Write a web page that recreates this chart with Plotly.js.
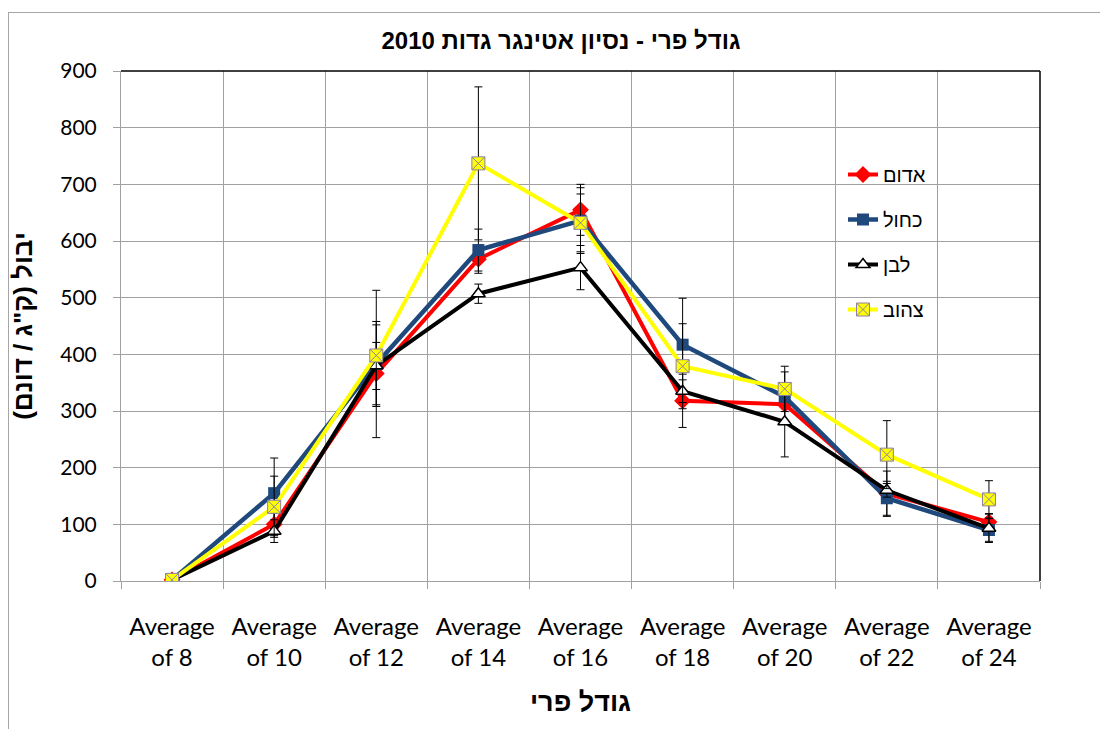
<!DOCTYPE html>
<html>
<head>
<meta charset="utf-8">
<script src="https://cdn.plot.ly/plotly-3.0.1.min.js"></script>
<style>
  html, body { margin: 0; padding: 0; background: #fff; }
  #wrap { position: relative; width: 1100px; height: 729px; overflow: hidden; }
  #frame { position: absolute; left: 8px; top: 12px; width: 1200px; height: 800px; border-left: 1px solid #a6a6a6; border-top: 1px solid #a6a6a6; pointer-events: none; z-index: 5; }
  #chart { position: absolute; left: 0; top: 0; width: 1100px; height: 729px; }
</style>
</head>
<body>
<div id="wrap">
  <div id="chart"></div>
  <div id="frame"></div>
</div>
<script>
const categories = ['Average of 8', 'Average of 10', 'Average of 12', 'Average of 14', 'Average of 16',
                    'Average of 18', 'Average of 20', 'Average of 22', 'Average of 24'];
const tickLabels = ['Average<br>of 8', 'Average<br>of 10', 'Average<br>of 12', 'Average<br>of 14', 'Average<br>of 16',
                    'Average<br>of 18', 'Average<br>of 20', 'Average<br>of 22', 'Average<br>of 24'];

const seriesNames = ['אדום', 'כחול', 'לבן', 'צהוב'];

const redValues    = [2, 100, 366, 568, 655, 318, 312, 154, 104];
const redErrors    = [2, 20, 55, 25, 45, 47, 30, 40, 15];
const blueValues   = [2, 155, 383, 584, 636, 417, 325, 146, 90];
const blueErrors   = [1, 62, 130, 37, 58, 82, 44, 30, 20];
const blackValues  = [2, 88, 380, 507, 553, 335, 281, 160, 93];
const blackErrors  = [1, 20, 72, 17, 39, 20, 62, 12, 25];
const yellowValues = [2, 131, 398, 737, 632, 379, 339, 223, 144];
const yellowErrors = [1, 54, 60, 135, 51, 75, 40, 60, 33];

const yTicks = [0, 100, 200, 300, 400, 500, 600, 700, 800, 900];

const titleText = '\u202Bגודל פרי - נסיון אטינגר גדות 2010\u202C';
const yTitleText = '\u202Bיבול (ק"ג / דונם)\u202C';
const xTitleText = '\u202Bגודל פרי\u202C';

function errBar(arr) {
  return { type: 'data', array: arr, visible: true, color: '#000', thickness: 1, width: 4 };
}

const traces = [
  { x: categories, y: redValues, name: seriesNames[0], legendgroup: 'a', mode: 'lines+markers',
    line: { color: '#ff0000', width: 4 },
    marker: { symbol: 'diamond', size: 13, color: '#ff0000' },
    error_y: errBar(redErrors) },
  { x: categories, y: blueValues, name: seriesNames[1], legendgroup: 'b', mode: 'lines+markers',
    line: { color: '#1f497d', width: 4.5 },
    marker: { symbol: 'square', size: 12, color: '#1f497d' },
    error_y: errBar(blueErrors) },
  { x: categories, y: blackValues, name: seriesNames[2], legendgroup: 'c', mode: 'lines+markers',
    line: { color: '#000000', width: 4 },
    marker: { symbol: 'triangle-up', size: 12, color: '#ffffff', line: { color: '#000', width: 1.5 } },
    error_y: errBar(blackErrors) },
  { x: categories, y: yellowValues, name: seriesNames[3], legendgroup: 'd', mode: 'lines+markers',
    line: { color: '#ffff00', width: 4 },
    marker: { symbol: 'square-x', size: 13, color: '#ffff00', line: { color: '#8a7fa8', width: 1 } },
    error_y: errBar(yellowErrors) }
];

const gridColor = '#a0a0a0';

const layout = {
  width: 1100, height: 729,
  margin: { l: 121, r: 60, t: 71, b: 148 },
  paper_bgcolor: '#fff', plot_bgcolor: '#fff',
  showlegend: true,
  title: { text: titleText, x: 561 / 1100, xanchor: 'center', y: 1 - 41 / 729, yanchor: 'middle',
           font: { family: 'Liberation Sans, Arial, sans-serif', size: 24, color: '#000', weight: 'bold' } },
  xaxis: {
    type: 'category', range: [-0.5, 8.5], tickson: 'boundaries',
    tickvals: categories, ticktext: tickLabels,
    showgrid: true, gridcolor: gridColor, gridwidth: 1,
    showline: true, linecolor: gridColor, linewidth: 1,
    ticks: 'outside', ticklen: 7, tickcolor: gridColor,
    tickfont: { family: 'Lato, Calibri, sans-serif', size: 24, color: '#000' },
    ticklabelstandoff: 24,
    title: { text: xTitleText, standoff: 22,
             font: { family: 'Liberation Sans, Arial, sans-serif', size: 27, color: '#000', weight: 'bold' } },
    fixedrange: true
  },
  yaxis: {
    range: [0, 900], tickvals: yTicks,
    showgrid: true, gridcolor: gridColor, gridwidth: 1,
    zeroline: false,
    showline: true, linecolor: gridColor, linewidth: 1,
    ticks: 'outside', ticklen: 7, tickcolor: gridColor,
    tickfont: { family: 'Lato, Calibri, sans-serif', size: 21, color: '#000' },
    ticklabelstandoff: 12,
    title: { text: yTitleText, standoff: 20,
             font: { family: 'Liberation Sans, Arial, sans-serif', size: 26, color: '#000', weight: 'bold' } },
    fixedrange: true
  },
  legend: {
    x: (843 - 121) / 919, xanchor: 'left', y: (581 - 155) / 510, yanchor: 'top',
    bgcolor: 'rgba(0,0,0,0)', borderwidth: 0,
    traceorder: 'grouped', tracegroupgap: 16,
    font: { family: 'Liberation Sans, Arial, sans-serif', size: 20, color: '#000' }
  },
  shapes: [
    { type: 'line', xref: 'paper', yref: 'paper', x0: 0, x1: 1, y0: 1, y1: 1, line: { color: '#000', width: 1.5 } },
    { type: 'line', xref: 'paper', yref: 'paper', x0: 1, x1: 1, y0: 0, y1: 1, line: { color: '#000', width: 1.5 } }
  ]
};

Plotly.newPlot('chart', traces, layout, { displayModeBar: false, staticPlot: true });
</script>
</body>
</html>
